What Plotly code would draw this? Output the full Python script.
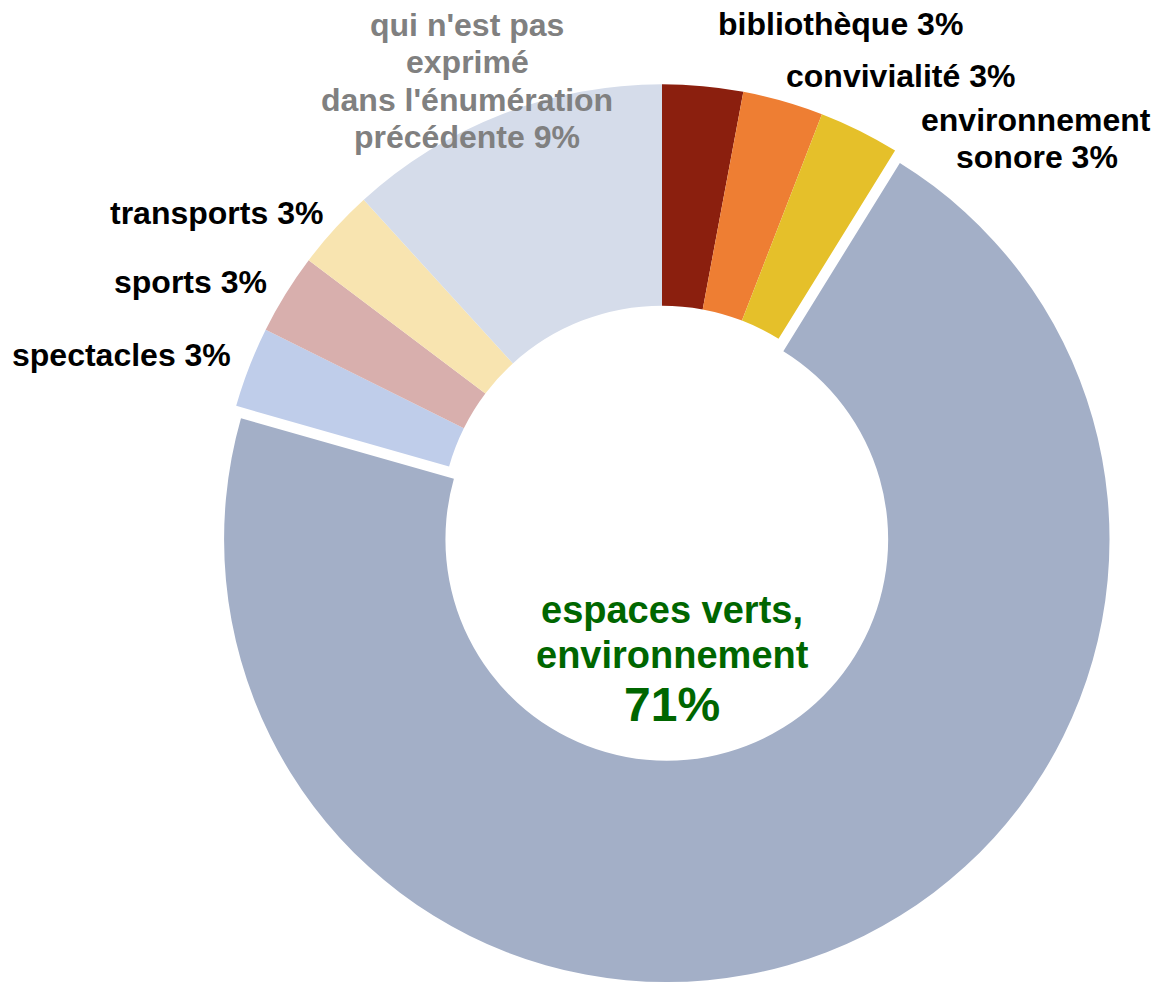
import plotly.graph_objects as go

# Data (counts; displayed percentages as printed on the chart)
categories = ["bibliothèque", "convivialité", "environnement sonore", "espaces verts, environnement",
              "spectacles", "sports", "transports",
              "qui n'est pas exprimé dans l'énumération précédente"]
counts = [1, 1, 1, 24, 1, 1, 1, 4]
pct_labels = ["3%", "3%", "3%", "71%", "3%", "3%", "3%", "9%"]

colors = ["#8B1F0E", "#EE7E33", "#E5C02A", "#A3AFC7", "#BFCDEA", "#D8AFAD", "#F8E4B0", "#D5DCEA"]
pulls = [0, 0, 0, 0.03, 0, 0, 0, 0]

W, H = 1156, 983
FONT = "Liberation Sans, Arial, sans-serif"

CX, CY, HALF = 662, 527, 456

fig = go.Figure(go.Pie(
    labels=categories,
    values=counts,
    sort=False,
    direction="clockwise",
    rotation=0,
    hole=0.5,
    pull=pulls,
    marker=dict(colors=colors, line=dict(width=0)),
    textinfo="none",
    hoverinfo="label+percent",
    domain=dict(x=[(CX - HALF) / W, (CX + HALF) / W],
                y=[max(0, 1 - (CY + HALF) / H), 1 - (CY - HALF) / H]),
    showlegend=False,
))

# Label lines: (text, x_px, y_px, size, color) in screen pixels
label_lines = [
    (f"{categories[0]} {pct_labels[0]}", 840, 24, 32, "#000000"),
    (f"{categories[1]} {pct_labels[1]}", 900, 76, 32, "#000000"),
    ("environnement", 1036, 120, 32, "#000000"),
    (f"sonore {pct_labels[2]}", 1037, 157, 32, "#000000"),
    (f"{categories[6]} {pct_labels[6]}", 216, 213, 32, "#000000"),
    (f"{categories[5]} {pct_labels[5]}", 190, 282, 32, "#000000"),
    (f"{categories[4]} {pct_labels[4]}", 121, 355, 32, "#000000"),
    ("qui n'est pas", 467, 25, 32, "#808080"),
    ("exprimé", 467, 62, 32, "#808080"),
    ("dans l'énumération", 467, 100, 32, "#808080"),
    (f"précédente {pct_labels[7]}", 467, 137, 32, "#808080"),
    ("espaces verts,", 672, 610, 38, "#006600"),
    ("environnement", 672, 655, 38, "#006600"),
    (pct_labels[3], 672, 704, 48, "#006600"),
]

annotations = []
for text, xp, yp, size, color in label_lines:
    annotations.append(dict(
        text=f"<b>{text}</b>", x=xp / W, y=1 - yp / H, xref="paper", yref="paper",
        xanchor="center", yanchor="middle", showarrow=False,
        font=dict(family=FONT, size=size, color=color),
    ))

fig.update_layout(
    width=W, height=H,
    margin=dict(l=0, r=0, t=0, b=0),
    paper_bgcolor="white", plot_bgcolor="white",
    annotations=annotations,
    font=dict(family=FONT),
)

fig.write_html("out.html",
               config={"displayModeBar": False},
               post_script="document.body.style.margin='0px';document.body.style.overflow='hidden';")
